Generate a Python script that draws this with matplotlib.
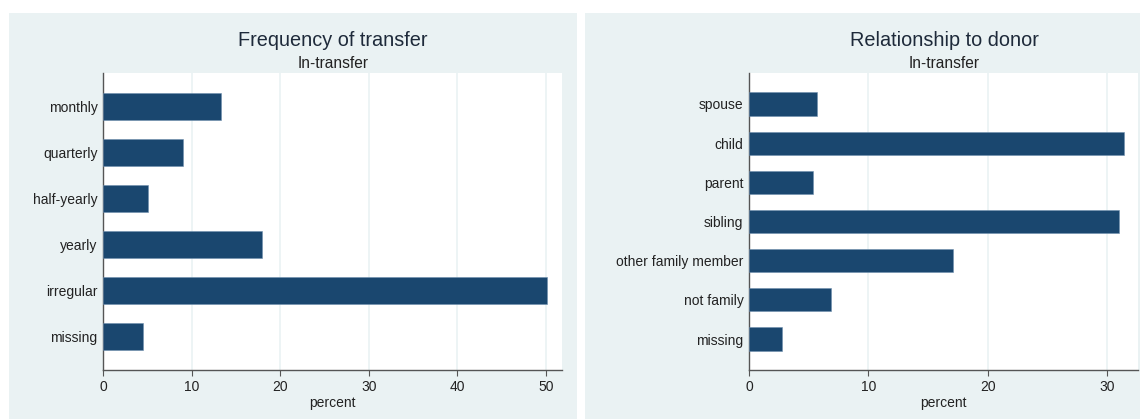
import matplotlib.pyplot as plt
from matplotlib.patches import Rectangle

plt.rcParams['font.family'] = ['Liberation Sans', 'DejaVu Sans']

# data (percent)
freq_labels = ["monthly", "quarterly", "half-yearly", "yearly", "irregular", "missing"]
freq_values = [13.3, 9.0, 5.1, 18.0, 50.1, 4.5]

rel_labels = ["spouse", "child", "parent", "sibling", "other family member", "not family", "missing"]
rel_values = [5.7, 31.4, 5.4, 31.0, 17.1, 6.9, 2.8]

W, H = 1140, 419
BG = "#EAF2F3"
BAR = "#1A476F"

fig = plt.figure(figsize=(W / 100, H / 100), dpi=100)
fig.patch.set_facecolor("white")

# panel backgrounds (pixel boxes)
for x0, x1 in [(9, 577), (585, 1140)]:
    fig.patches.append(Rectangle((x0 / W, 0), (x1 - x0) / W, (H - 13) / H,
                                 transform=fig.transFigure, facecolor=BG,
                                 edgecolor="none", zorder=-10))


def panel(left, right, labels, values, xlim, xticks, title, cx):
    ax = fig.add_axes([left / W, (H - 370) / H, (right - left) / W, (370 - 73) / H])
    ax.set_zorder(5)
    ax.set_facecolor("white")
    n = len(labels)
    pos = list(range(n))
    ax.barh(pos, values, height=0.59, color=BAR, edgecolor="#6f8fae", linewidth=0.4, zorder=3)
    ax.set_yticks(pos)
    ax.set_yticklabels(labels, fontsize=10, color="#222222")
    pad = 0.72 if n == 6 else 0.79
    ax.set_ylim(n - 1 + pad, -pad)
    ax.set_xlim(0, xlim)
    ax.set_xticks(xticks)
    ax.tick_params(axis="x", labelsize=10, colors="#222222", length=4, width=0.8, color="#555555")
    ax.tick_params(axis="y", length=0, pad=4)
    ax.grid(axis="x", color=BG, linewidth=1.2, zorder=0)
    for s in ["top", "right"]:
        ax.spines[s].set_visible(False)
    for s in ["left", "bottom"]:
        ax.spines[s].set_color("#555555")
        ax.spines[s].set_linewidth(1.0)
    ax.set_xlabel("percent", fontsize=10, color="#222222", labelpad=1)
    fig.text(cx / W, 1 - 40 / H, title, fontsize=14.3, color="#1e2a3a", ha="center", va="center")
    fig.text(cx / W, 1 - 63 / H, "In-transfer", fontsize=11.2, color="#222222", ha="center", va="center")
    return ax


panel(103, 562, freq_labels, freq_values, 51.8, [0, 10, 20, 30, 40, 50], "Frequency of transfer", 333)
panel(749, 1138, rel_labels, rel_values, 32.6, [0, 10, 20, 30], "Relationship to donor", 944)

fig.savefig("out.png", dpi=100, facecolor="white")
